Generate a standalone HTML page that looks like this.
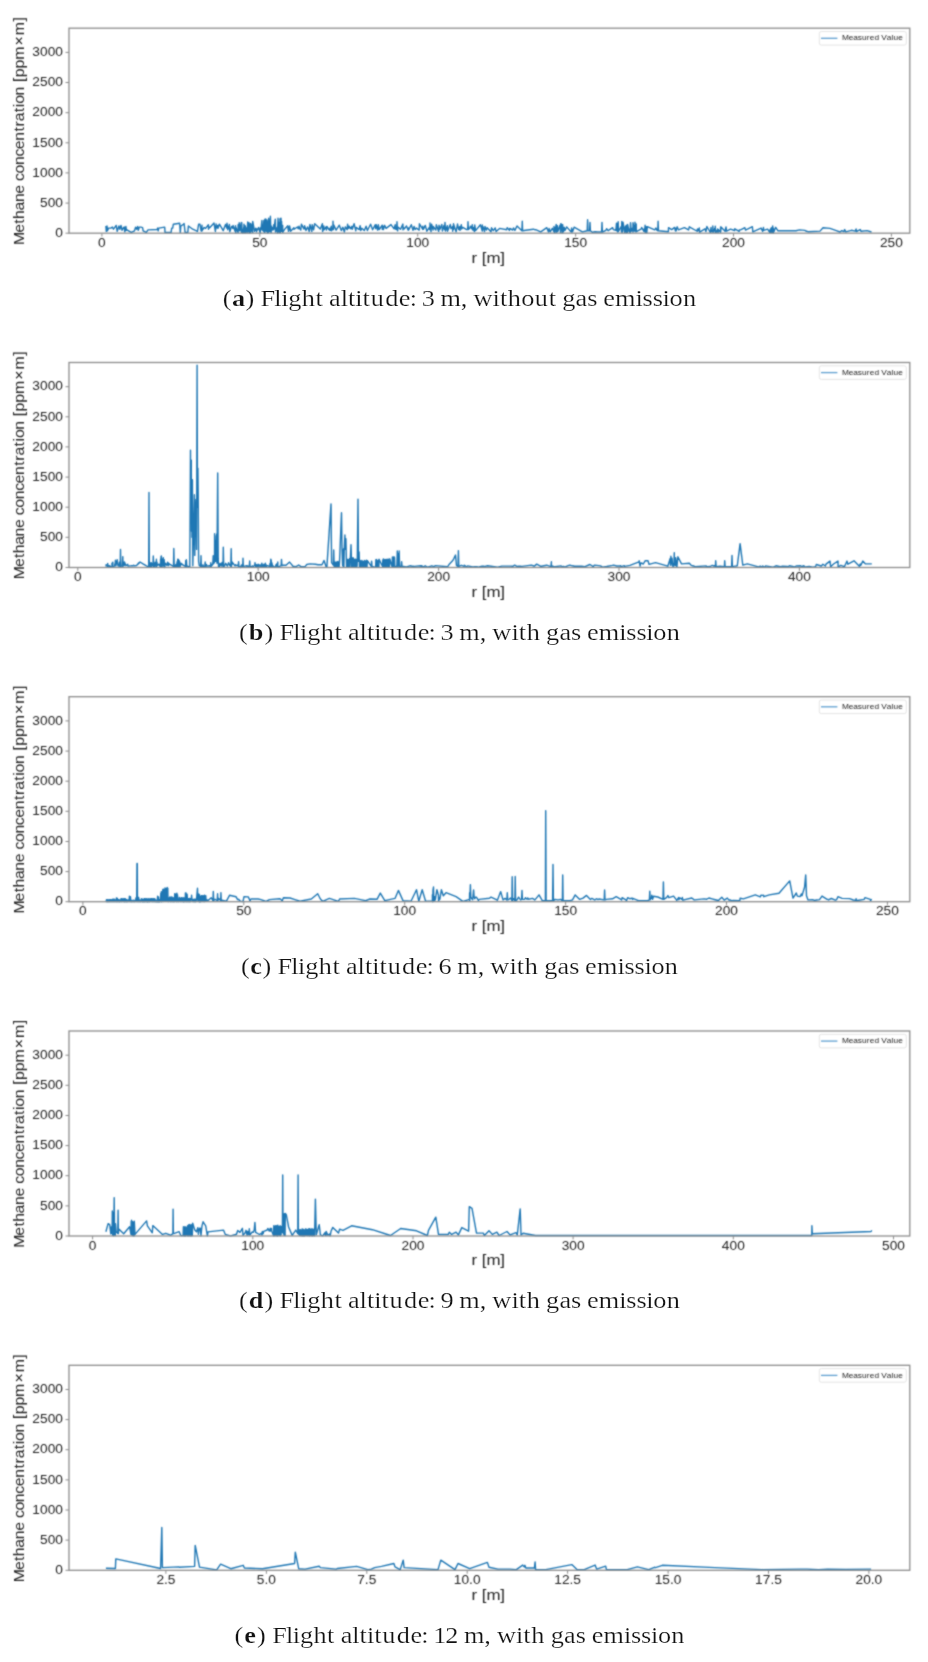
<!DOCTYPE html><html><head><meta charset="utf-8"><style>html,body{margin:0;padding:0;background:#fff;}body{width:928px;height:1662px;overflow:hidden;}svg{display:block;}</style></head><body>
<svg width="928" height="1662" viewBox="0 0 928 1662">
<rect width="928" height="1662" fill="#fff"/>
<defs><filter id="bl" x="0" y="0" width="928" height="1662" filterUnits="userSpaceOnUse" color-interpolation-filters="sRGB"><feConvolveMatrix order="3" kernelMatrix="1 2 1 2 8 2 1 2 1" divisor="20" edgeMode="none"/></filter></defs>
<g filter="url(#bl)">
<rect width="928" height="1662" fill="#fff"/>
<g><path d="M105.9,226.0 L106.3,231.4 L107.0,226.0 L107.5,230.8 L108.6,228.1 L110.8,228.1 L112.4,227.1 L113.5,229.2 L116.2,225.4 L117.2,231.4 L118.9,226.0 L119.9,229.2 L121.0,225.4 L122.1,230.3 L123.2,228.1 L124.2,227.1 L124.8,231.9 L125.9,226.5 L126.4,230.3 L126.9,229.8 L131.3,232.4 L134.5,230.8 L135.6,227.1 L136.6,229.2 L137.7,226.5 L138.3,230.3 L139.3,227.1 L140.9,227.1 L142.6,227.6 L143.1,230.8 L146.3,232.4 L148.0,229.9 L157.1,229.5 L157.7,228.1 L158.2,230.8 L158.7,228.1 L164.7,227.1 L165.0,232.4 L171.1,232.4 L171.7,228.1 L172.7,228.1 L173.3,224.3 L179.7,223.3 L180.3,232.4 L180.8,226.0 L183.5,224.3 L184.1,223.5 L185.1,232.4 L187.8,232.4 L188.4,226.0 L192.7,229.2 L197.5,231.4 L198.6,224.3 L200.0,224.3 L201.1,231.0 L201.9,226.4 L202.0,231.0 L202.0,225.2 L202.0,230.7 L204.2,227.5 L205.6,228.4 L208.4,224.7 L208.5,229.2 L208.8,226.7 L209.7,227.7 L214.0,223.1 L215.4,231.5 L215.7,225.9 L215.9,228.9 L216.1,223.9 L216.3,227.9 L217.8,225.4 L217.9,228.4 L219.4,224.1 L223.2,230.7 L225.5,224.5 L226.9,228.2 L227.0,223.2 L227.8,229.8 L229.4,224.5 L229.8,231.8 L231.6,226.4 L232.9,228.5 L233.1,225.5 L235.1,231.4 L235.5,225.7 L235.8,233.1 L236.0,227.6 L238.1,232.7 L238.1,224.7 L238.6,230.6 L239.2,222.8 L239.8,230.8 L241.2,222.7 L241.4,232.4 L241.7,222.5 L242.1,231.2 L242.1,228.9 L242.7,233.1 L242.9,229.5 L243.3,230.9 L243.7,227.5 L243.8,232.9 L244.0,224.3 L244.1,232.2 L244.2,229.0 L244.2,232.7 L244.3,225.1 L244.4,232.7 L244.7,227.3 L244.7,231.1 L244.9,225.7 L244.9,232.2 L245.1,225.6 L245.3,233.1 L245.4,226.3 L245.7,231.9 L246.2,228.0 L247.1,232.9 L247.7,222.0 L247.7,231.7 L248.3,227.8 L248.9,231.4 L249.0,222.7 L249.1,233.1 L249.6,229.4 L249.8,232.8 L250.5,223.5 L250.7,232.7 L251.0,223.6 L252.1,231.2 L252.2,225.0 L252.7,232.5 L252.7,221.4 L254.6,231.3 L255.8,228.2 L256.6,231.9 L257.0,229.0 L257.5,229.9 L258.6,227.5 L260.2,233.1 L260.4,227.9 L260.9,229.9 L261.9,220.4 L262.4,230.1 L262.4,225.1 L263.1,230.9 L263.9,220.4 L263.9,231.8 L264.5,222.7 L264.6,232.4 L264.7,227.8 L264.9,232.2 L264.9,219.3 L265.4,231.1 L265.8,218.9 L266.7,231.5 L266.8,225.8 L267.0,230.2 L267.1,219.9 L267.5,233.2 L267.5,221.6 L267.8,232.9 L267.8,227.5 L267.9,229.9 L268.0,228.3 L268.5,232.3 L268.7,218.3 L269.6,231.6 L270.0,227.5 L270.0,229.6 L270.4,216.3 L270.8,229.6 L271.1,232.6 L271.5,226.1 L271.7,230.4 L272.7,227.6 L273.1,229.8 L273.8,224.7 L273.9,229.5 L275.3,219.1 L275.5,232.1 L275.5,226.0 L275.8,231.4 L276.2,227.6 L276.7,230.7 L277.1,228.3 L277.5,233.2 L278.0,218.3 L278.8,232.1 L279.3,222.4 L279.3,231.5 L279.7,225.4 L280.0,233.0 L280.0,219.0 L280.0,229.5 L280.2,218.5 L280.3,232.8 L280.4,226.4 L280.7,230.9 L281.0,218.3 L281.4,231.2 L281.6,221.4 L281.9,230.7 L282.1,225.9 L282.4,231.2 L282.7,225.4 L282.7,232.3 L284.4,229.6 L287.8,225.8 L288.1,229.5 L288.2,227.2 L288.4,231.3 L288.6,227.2 L288.7,231.2 L289.6,225.9 L290.6,231.2 L293.9,227.8 L294.1,229.3 L297.4,227.0 L298.2,228.8 L299.0,226.2 L299.7,228.6 L300.8,230.1 L301.4,224.2 L304.0,229.1 L304.6,225.6 L306.0,230.5 L307.7,226.9 L309.2,231.6 L309.9,224.5 L311.8,231.5 L312.2,224.7 L313.6,229.9 L314.7,223.7 L320.3,229.1 L322.4,223.7 L322.6,231.5 L323.8,225.9 L324.0,229.8 L326.3,226.8 L326.4,230.1 L326.9,226.5 L329.3,230.0 L330.0,228.2 L330.3,230.3 L331.3,226.1 L331.3,230.8 L332.6,229.6 L332.9,226.3 L333.0,221.1 L333.4,229.6 L333.5,229.0 L333.8,225.0 L336.1,230.1 L339.3,225.2 L341.3,230.6 L342.8,227.3 L344.4,232.0 L345.3,226.9 L347.2,229.7 L347.6,224.1 L347.7,228.8 L348.0,225.8 L349.0,228.2 L349.2,226.1 L350.8,228.8 L351.9,226.3 L352.3,229.2 L354.1,223.6 L355.8,230.8 L356.1,227.4 L359.2,229.6 L360.1,225.7 L360.8,230.6 L361.8,228.2 L364.3,230.5 L366.1,226.2 L367.4,230.5 L370.6,224.2 L372.6,229.8 L375.2,224.8 L375.6,228.6 L376.2,224.7 L377.6,230.1 L378.3,224.7 L379.2,229.6 L382.2,225.2 L382.3,229.6 L383.3,226.3 L383.4,229.6 L384.6,225.3 L386.1,228.4 L391.0,224.6 L394.1,228.8 L395.2,224.6 L395.3,228.9 L396.6,229.6 L397.0,221.7 L397.2,225.4 L397.4,229.6 L397.7,230.7 L397.9,227.0 L400.5,229.3 L402.9,224.1 L403.0,229.9 L403.6,227.5 L404.4,228.8 L406.5,225.9 L408.2,230.2 L408.4,228.0 L408.5,230.1 L411.3,224.7 L413.0,230.4 L414.1,226.5 L415.1,229.5 L416.4,228.1 L419.2,230.1 L419.4,223.8 L422.8,229.4 L422.8,226.3 L423.3,229.4 L425.3,225.4 L426.9,231.2 L429.5,227.2 L429.6,229.6 L429.9,228.6 L430.0,223.0 L430.4,229.6 L430.4,226.9 L431.0,231.7 L431.6,224.3 L433.1,230.0 L433.2,226.5 L435.8,230.1 L436.3,224.8 L438.7,231.4 L439.0,225.2 L439.9,229.3 L441.8,224.4 L442.4,231.0 L444.0,225.4 L444.6,229.6 L445.0,222.4 L445.4,229.6 L445.5,231.1 L447.4,225.6 L447.5,231.3 L450.3,224.5 L451.0,228.7 L452.5,226.7 L452.7,231.2 L453.5,223.7 L453.6,229.3 L453.6,224.3 L456.1,231.9 L457.5,224.0 L458.7,229.6 L459.7,226.7 L460.0,230.4 L461.3,224.7 L461.7,229.0 L462.7,227.3 L466.7,229.6 L467.6,229.6 L467.8,227.4 L468.0,221.7 L468.4,229.6 L469.8,228.3 L470.4,226.1 L471.6,228.5 L472.3,224.8 L472.4,229.7 L472.7,227.0 L473.0,230.0 L473.4,227.6 L474.4,231.5 L474.7,224.9 L475.6,230.6 L480.4,224.7 L482.3,231.1 L482.3,224.9 L482.4,229.3 L483.0,226.8 L484.5,231.6 L485.0,226.4 L486.4,230.1 L487.1,227.7 L491.0,231.8 L491.5,227.8 L493.3,230.7 L495.2,227.9 L496.1,231.6 L499.6,228.4 L506.7,229.7 L507.2,227.6 L509.4,230.4 L509.7,228.5 L512.8,230.0 L513.5,228.0 L514.9,230.4 L517.0,226.0 L521.9,230.8 L522.3,221.3 L522.6,230.8 L525.8,230.3 L533.4,229.2 L535.2,229.9 L535.7,229.6 L540.7,231.8 L546.8,227.7 L548.5,232.0 L549.1,228.5 L550.2,231.8 L552.3,228.3 L553.9,231.7 L554.0,226.5 L554.1,231.9 L554.2,229.9 L554.3,232.3 L554.6,227.5 L554.9,232.7 L556.2,224.4 L556.6,232.2 L557.4,225.8 L557.8,231.5 L560.0,225.3 L560.4,231.5 L560.5,225.2 L560.5,232.6 L560.8,223.7 L561.0,232.8 L561.6,224.1 L562.7,231.1 L562.7,224.6 L562.7,233.1 L563.4,229.7 L563.7,231.2 L564.1,227.1 L565.1,230.3 L566.7,226.9 L571.2,232.1 L571.6,228.0 L572.5,231.9 L574.1,227.2 L582.4,231.9 L587.2,230.8 L587.6,219.8 L588.0,230.8 L589.6,230.8 L590.0,222.4 L590.4,230.8 L592.3,232.3 L595.1,231.7 L597.9,232.0 L601.6,232.0 L602.0,222.4 L602.4,232.0 L605.9,230.3 L606.6,228.7 L608.1,230.7 L612.7,227.7 L613.3,229.6 L615.9,230.3 L616.5,223.1 L617.1,231.1 L617.3,223.4 L617.9,232.1 L618.2,221.8 L618.4,231.3 L621.3,226.3 L621.4,231.8 L621.8,221.5 L622.0,231.6 L622.0,228.2 L622.1,232.8 L622.5,223.9 L622.6,231.5 L623.0,222.1 L624.7,232.7 L625.4,226.2 L625.8,231.0 L626.3,229.2 L626.3,232.9 L626.4,225.1 L626.6,232.4 L627.4,228.7 L627.4,232.4 L627.6,224.4 L629.1,231.6 L629.1,229.0 L630.1,233.0 L630.5,222.6 L631.2,231.3 L632.3,228.2 L632.6,230.6 L632.6,229.5 L633.0,232.1 L633.0,222.6 L634.4,231.1 L634.7,227.3 L634.8,230.6 L634.9,224.7 L635.0,230.6 L635.0,222.2 L635.9,231.9 L636.2,224.0 L636.3,231.6 L641.0,229.2 L641.7,227.5 L643.9,231.3 L644.1,228.9 L644.7,230.4 L645.1,225.2 L645.2,232.6 L646.2,226.6 L646.3,231.0 L646.4,229.3 L646.8,232.8 L647.3,226.6 L654.7,229.9 L656.0,228.0 L656.7,229.9 L657.8,230.8 L658.1,221.3 L658.5,230.8 L668.4,231.7 L668.5,227.7 L671.7,229.6 L674.7,227.4 L675.3,230.7 L675.8,228.5 L676.0,231.1 L677.2,226.8 L678.5,229.9 L684.4,227.6 L688.6,229.9 L689.3,226.8 L696.7,231.0 L697.5,229.0 L697.7,231.3 L699.3,228.0 L699.6,232.2 L705.0,228.8 L705.9,231.6 L706.9,226.5 L710.3,232.5 L711.0,227.4 L711.4,231.7 L712.5,230.6 L712.8,232.1 L712.8,226.0 L713.2,232.2 L714.8,228.3 L715.3,232.6 L715.3,226.2 L715.4,231.4 L715.7,230.5 L716.5,232.2 L717.6,228.9 L717.9,232.0 L717.9,230.4 L718.1,232.7 L718.5,229.6 L720.5,232.3 L720.6,227.0 L720.7,231.6 L721.0,227.0 L725.1,231.3 L726.0,226.9 L726.5,231.1 L730.5,229.2 L734.6,230.5 L734.8,228.8 L739.2,231.3 L739.3,229.9 L740.6,229.9 L744.9,227.7 L745.5,230.1 L752.4,226.7 L752.8,231.9 L761.1,228.1 L762.7,231.4 L763.5,227.4 L763.6,230.3 L767.6,229.1 L769.9,232.7 L770.0,229.7 L770.4,232.5 L770.9,228.3 L771.0,232.5 L771.9,227.5 L771.9,232.8 L772.7,226.0 L772.9,231.8 L773.2,227.9 L773.3,233.1 L773.9,229.1 L773.9,231.8 L775.7,227.3 L778.0,230.8 L796.0,230.8 L799.5,229.9 L804.9,230.4 L805.8,231.0 L808.0,231.7 L820.0,231.1 L823.0,227.8 L830.0,228.4 L837.0,230.8 L840.0,232.0 L841.8,230.6 L843.8,231.6 L844.7,229.6 L845.7,231.9 L851.4,230.3 L855.3,231.1 L856.1,229.0 L856.3,231.5 L860.3,229.6 L860.9,231.3 L867.1,230.6 L871.5,232.0" fill="none" stroke="#1f77b4" stroke-width="1.4" stroke-linejoin="round"/><rect x="69.0" y="28.2" width="840.8" height="205.0" fill="none" stroke="#8c8c8c" stroke-width="1.3"/><line x1="65.5" y1="233.2" x2="69.0" y2="233.2" stroke="#8c8c8c" stroke-width="1"/><text transform="scale(1.0725,1)" y="236.93" font-size="12.80" class="tk"><tspan x="51.53">0</tspan></text><line x1="65.5" y1="203.1" x2="69.0" y2="203.1" stroke="#8c8c8c" stroke-width="1"/><text transform="scale(1.0725,1)" y="206.80" font-size="12.80" class="tk"><tspan x="37.29 44.41 51.53">500</tspan></text><line x1="65.5" y1="172.9" x2="69.0" y2="172.9" stroke="#8c8c8c" stroke-width="1"/><text transform="scale(1.0725,1)" y="176.66" font-size="12.80" class="tk"><tspan x="30.17 37.29 44.41 51.53">1000</tspan></text><line x1="65.5" y1="142.8" x2="69.0" y2="142.8" stroke="#8c8c8c" stroke-width="1"/><text transform="scale(1.0725,1)" y="146.53" font-size="12.80" class="tk"><tspan x="30.17 37.29 44.41 51.53">1500</tspan></text><line x1="65.5" y1="112.7" x2="69.0" y2="112.7" stroke="#8c8c8c" stroke-width="1"/><text transform="scale(1.0725,1)" y="116.40" font-size="12.80" class="tk"><tspan x="30.17 37.29 44.41 51.53">2000</tspan></text><line x1="65.5" y1="82.5" x2="69.0" y2="82.5" stroke="#8c8c8c" stroke-width="1"/><text transform="scale(1.0725,1)" y="86.26" font-size="12.80" class="tk"><tspan x="30.17 37.29 44.41 51.53">2500</tspan></text><line x1="65.5" y1="52.4" x2="69.0" y2="52.4" stroke="#8c8c8c" stroke-width="1"/><text transform="scale(1.0725,1)" y="56.13" font-size="12.80" class="tk"><tspan x="30.17 37.29 44.41 51.53">3000</tspan></text><line x1="101.9" y1="233.2" x2="101.9" y2="236.7" stroke="#8c8c8c" stroke-width="1"/><text transform="scale(1.0725,1)" y="246.83" font-size="12.80" class="tk"><tspan x="91.45">0</tspan></text><line x1="259.8" y1="233.2" x2="259.8" y2="236.7" stroke="#8c8c8c" stroke-width="1"/><text transform="scale(1.0725,1)" y="246.83" font-size="12.80" class="tk"><tspan x="235.12 242.24">50</tspan></text><line x1="417.7" y1="233.2" x2="417.7" y2="236.7" stroke="#8c8c8c" stroke-width="1"/><text transform="scale(1.0725,1)" y="246.83" font-size="12.80" class="tk"><tspan x="378.79 385.91 393.03">100</tspan></text><line x1="575.6" y1="233.2" x2="575.6" y2="236.7" stroke="#8c8c8c" stroke-width="1"/><text transform="scale(1.0725,1)" y="246.83" font-size="12.80" class="tk"><tspan x="526.02 533.14 540.26">150</tspan></text><line x1="733.5" y1="233.2" x2="733.5" y2="236.7" stroke="#8c8c8c" stroke-width="1"/><text transform="scale(1.0725,1)" y="246.83" font-size="12.80" class="tk"><tspan x="673.25 680.37 687.48">200</tspan></text><line x1="891.4" y1="233.2" x2="891.4" y2="236.7" stroke="#8c8c8c" stroke-width="1"/><text transform="scale(1.0725,1)" y="246.83" font-size="12.80" class="tk"><tspan x="820.47 827.59 834.71">250</tspan></text><text transform="scale(1.1980,1)" y="262.65" font-size="14.10" class="tk"><tspan x="393.63 398.16 402.18 406.01 417.66">r [m]</tspan></text><text transform="translate(0,243.00) rotate(-90) scale(1.1236,1)" y="24.00" font-size="14.10" class="tk"><tspan x="-1.84 9.04 17.09 21.33 28.86 36.39 43.94 51.54 55.22 61.84 69.37 76.92 83.56 91.11 99.27 103.74 108.35 116.39 120.83 123.85 131.38 139.09 143.37 147.60 155.27 163.04 175.75 184.94 197.10">Methane concentration [ppm×m]</tspan></text><rect x="819.3" y="31.5" width="87" height="13.6" rx="2" fill="#fff" stroke="#e4e4e4" stroke-width="1"/><line x1="821" y1="38.3" x2="837.4" y2="38.3" stroke="#5e9fd0" stroke-width="1.3"/><text transform="scale(1.0576,1)" y="40.50" font-size="7.86" class="lg"><tspan x="796.17 802.52 806.88 811.13 815.02 819.61 822.38 826.83 831.31 833.34 838.39 842.86 844.79 849.23">Measured Value</tspan></text></g>
<g><path d="M106.0,566.5 L106.1,564.6 L107.5,566.6 L107.7,563.4 L108.0,566.7 L108.0,565.2 L109.6,566.5 L109.7,565.7 L110.8,566.8 L112.0,566.9 L112.0,563.1 L112.5,565.7 L112.8,562.3 L112.9,566.4 L114.6,566.1 L114.9,563.9 L115.1,565.6 L115.4,560.3 L115.9,565.9 L117.2,559.7 L118.0,565.9 L119.0,564.7 L119.0,566.2 L119.5,562.1 L120.2,566.3 L120.5,549.5 L120.8,566.3 L122.3,565.8 L122.8,556.6 L122.8,565.4 L122.9,560.1 L122.9,566.8 L123.0,561.4 L124.2,565.5 L124.4,562.7 L124.4,564.9 L124.5,561.9 L125.9,565.7 L127.7,564.2 L127.9,566.0 L130.7,565.9 L131.5,565.7 L133.1,565.8 L133.7,565.2 L134.2,565.8 L136.5,565.6 L137.8,564.2 L138.4,563.0 L138.5,563.8 L140.0,562.0 L143.0,563.9 L146.0,565.7 L148.4,566.9 L148.7,566.9 L149.0,492.5 L149.3,566.9 L149.8,566.8 L150.0,562.6 L150.1,567.4 L150.7,564.1 L151.4,567.2 L151.4,562.8 L153.0,566.3 L153.3,556.0 L153.7,566.3 L154.5,566.5 L154.5,564.2 L154.6,565.0 L154.8,563.4 L154.9,567.4 L155.1,562.1 L156.3,565.9 L156.4,559.3 L156.6,567.2 L157.0,562.1 L157.2,565.6 L158.5,564.3 L159.5,565.7 L159.6,564.3 L160.4,567.2 L160.6,558.9 L160.7,566.0 L161.1,556.1 L161.3,564.8 L161.4,556.0 L161.4,566.8 L161.5,560.4 L162.0,566.7 L162.3,559.3 L162.7,565.7 L163.3,557.6 L163.5,565.4 L163.7,561.9 L163.9,566.3 L164.2,559.8 L164.5,567.5 L164.7,563.7 L164.9,566.3 L165.3,563.1 L166.9,565.4 L167.6,562.1 L168.4,565.6 L168.7,563.1 L168.8,565.1 L168.9,563.5 L169.9,564.4 L173.5,566.3 L173.8,548.4 L174.2,566.3 L175.3,566.2 L175.9,564.5 L176.4,566.8 L176.8,564.9 L177.1,561.6 L177.4,567.4 L177.7,559.3 L177.8,567.2 L178.2,562.1 L178.2,565.3 L178.5,559.4 L179.1,567.4 L179.4,561.0 L180.4,566.2 L181.0,563.3 L182.1,564.6 L182.4,564.2 L182.9,565.0 L185.5,566.3 L185.8,560.4 L186.1,566.3 L186.2,566.3 L186.4,559.7 L186.8,566.3 L188.0,566.3 L189.8,566.9 L190.5,450.1 L190.7,522.1 L191.3,460.3 L191.5,531.3 L191.7,486.9 L192.0,537.3 L192.4,479.8 L192.8,565.7 L193.3,543.4 L194.4,494.7 L194.8,555.4 L195.3,513.2 L196.0,499.4 L196.6,549.4 L197.1,365.1 L197.5,507.2 L197.9,468.2 L198.2,493.9 L198.6,561.4 L199.3,565.7 L200.7,566.3 L201.0,555.7 L201.3,566.3 L202.5,566.4 L203.0,564.8 L203.4,566.4 L204.8,566.3 L205.2,562.0 L205.5,566.3 L206.3,566.2 L206.5,564.5 L206.5,566.1 L209.4,565.7 L210.5,566.3 L210.8,562.8 L211.2,566.3 L212.2,565.1 L212.8,563.9 L213.2,555.7 L213.5,563.9 L214.5,562.2 L214.6,533.8 L214.9,550.3 L215.2,560.7 L215.3,549.7 L215.4,561.2 L215.5,540.7 L216.0,557.4 L216.2,542.7 L216.3,535.8 L216.5,558.2 L216.5,553.2 L216.6,561.7 L216.7,533.9 L217.0,563.3 L217.1,546.3 L217.7,472.9 L218.2,558.4 L218.5,566.5 L218.6,562.8 L218.8,566.8 L219.2,563.5 L219.4,567.3 L220.7,563.4 L221.6,566.0 L222.0,562.5 L223.0,566.3 L223.3,547.2 L223.7,566.3 L224.6,566.0 L225.7,563.3 L227.4,566.1 L228.6,562.7 L229.8,565.4 L230.8,566.3 L231.2,548.7 L231.5,566.3 L231.6,564.0 L231.8,561.5 L232.2,564.3 L232.4,562.3 L235.0,565.9 L235.4,564.7 L236.6,565.6 L237.7,565.0 L238.2,566.3 L238.6,561.6 L238.9,566.3 L240.6,567.5 L241.0,565.8 L241.0,567.0 L241.3,565.7 L241.5,565.0 L241.6,565.1 L241.7,566.0 L242.7,566.3 L243.0,558.3 L243.3,566.3 L243.6,566.4 L246.8,565.7 L247.1,566.8 L247.5,565.8 L248.0,566.5 L248.7,566.2 L249.3,566.3 L249.7,561.0 L250.0,566.3 L250.9,566.8 L252.6,565.9 L253.3,566.6 L253.6,566.2 L254.7,565.7 L255.0,562.6 L255.3,565.7 L256.0,567.3 L256.3,564.7 L256.9,566.9 L257.0,565.0 L257.6,567.5 L258.1,564.1 L258.5,566.3 L259.2,564.8 L260.0,566.8 L260.9,564.7 L261.6,566.9 L261.8,563.1 L261.8,567.1 L262.0,563.8 L262.8,566.9 L263.9,564.2 L264.1,566.4 L264.1,565.8 L265.0,566.5 L265.0,565.0 L265.1,566.7 L265.4,563.3 L265.4,566.7 L266.0,564.7 L266.4,566.5 L267.6,565.7 L269.8,566.5 L270.0,563.5 L270.3,566.9 L270.8,559.1 L271.1,567.2 L271.1,559.9 L271.6,566.7 L271.8,562.7 L272.7,566.8 L273.3,566.0 L273.6,566.7 L275.3,567.1 L276.0,564.7 L276.3,566.4 L276.9,563.8 L277.7,566.9 L277.8,561.9 L277.8,567.1 L281.1,565.7 L281.5,559.4 L281.9,565.7 L283.0,565.3 L286.0,565.3 L289.6,562.1 L293.0,566.3 L296.0,566.6 L298.7,565.0 L301.0,566.6 L305.0,566.6 L306.8,564.5 L310.0,563.9 L315.4,564.2 L318.0,564.8 L322.0,564.8 L324.0,560.5 L326.2,566.9 L326.9,566.9 L331.0,503.9 L331.6,562.6 L333.3,565.1 L333.7,550.0 L334.1,565.1 L334.3,567.3 L334.6,561.9 L334.8,567.0 L335.3,562.2 L335.5,567.2 L336.0,562.4 L336.4,566.8 L336.6,562.2 L337.0,567.1 L337.4,561.6 L337.7,567.3 L338.0,561.5 L338.4,567.4 L338.8,562.6 L339.1,567.2 L339.5,562.2 L341.5,512.7 L342.0,547.6 L342.6,565.5 L342.9,550.0 L343.2,566.8 L343.5,549.0 L343.9,567.1 L344.2,550.3 L344.9,535.0 L345.4,549.4 L345.9,538.8 L346.6,567.1 L346.7,558.8 L347.1,567.4 L347.4,560.0 L347.8,566.5 L348.2,559.5 L348.5,566.6 L348.9,560.0 L349.2,566.9 L349.6,558.7 L350.0,567.1 L350.3,558.8 L351.0,544.7 L351.7,567.3 L352.0,557.8 L352.5,567.3 L352.7,557.9 L353.0,566.7 L353.4,558.0 L353.7,567.4 L354.1,559.2 L354.4,566.5 L354.7,559.7 L355.1,567.3 L355.5,559.1 L355.9,567.3 L356.2,559.5 L356.4,566.7 L356.7,559.6 L357.1,566.3 L357.3,558.5 L358.0,499.1 L358.5,561.4 L359.1,552.0 L359.5,566.7 L360.1,560.4 L360.3,566.8 L360.7,561.0 L361.0,566.7 L361.2,561.4 L361.7,567.4 L361.9,560.5 L362.3,566.9 L362.8,561.4 L363.1,567.1 L363.3,561.3 L363.7,567.1 L364.1,561.1 L364.2,567.1 L364.7,560.5 L364.9,566.8 L365.2,560.9 L365.6,567.1 L365.9,561.3 L366.2,566.8 L366.6,560.3 L367.0,567.3 L367.4,560.7 L371.2,566.3 L371.6,561.1 L372.0,566.3 L375.6,567.4 L375.9,559.6 L376.1,566.7 L376.6,559.5 L376.8,566.9 L377.1,560.8 L377.5,567.3 L377.9,560.7 L378.2,566.8 L378.6,560.0 L378.9,567.3 L379.1,559.3 L382.5,566.5 L382.8,559.9 L383.0,566.6 L383.3,559.0 L383.6,566.6 L384.1,559.4 L384.4,567.0 L384.6,559.6 L385.1,567.0 L385.3,559.8 L385.6,567.3 L385.9,559.4 L386.3,567.3 L386.6,559.4 L387.0,566.8 L387.1,559.7 L387.6,567.3 L387.8,559.1 L388.3,566.5 L388.5,559.8 L388.8,566.8 L389.2,559.0 L389.5,566.5 L389.8,559.0 L392.1,567.1 L392.4,556.9 L392.9,567.0 L393.1,557.6 L393.4,566.9 L393.9,556.7 L394.1,567.4 L394.5,557.3 L394.8,567.3 L396.9,565.9 L397.3,551.0 L397.3,555.5 L397.6,567.0 L397.8,553.1 L398.3,565.9 L398.7,555.3 L398.9,566.2 L399.2,551.0 L399.2,553.4 L399.6,566.4 L401.2,566.3 L401.6,561.6 L402.0,566.3 L406.4,567.0 L409.9,565.8 L413.3,566.5 L413.4,566.3 L414.3,566.4 L420.8,565.7 L421.4,567.1 L421.4,565.7 L423.4,566.8 L425.2,565.8 L427.4,567.1 L431.8,565.8 L433.8,566.7 L435.5,565.6 L447.7,566.7 L449.5,563.9 L453.0,560.2 L455.5,555.1 L456.5,565.7 L458.0,566.3 L458.4,550.6 L458.8,566.3 L461.4,565.3 L464.2,566.3 L464.3,565.3 L466.8,566.9 L467.6,565.9 L473.0,567.0 L474.7,566.7 L477.4,566.8 L478.2,567.2 L482.0,566.3 L483.8,566.1 L484.1,566.6 L487.6,565.8 L497.6,567.1 L501.9,566.1 L510.1,566.1 L512.8,566.3 L514.7,565.2 L517.8,566.9 L517.9,566.3 L520.4,566.2 L521.8,566.4 L531.3,565.1 L534.0,566.0 L534.4,566.1 L536.7,564.1 L540.4,566.2 L541.4,566.2 L546.6,565.2 L551.0,566.6 L551.4,561.7 L551.4,565.5 L551.8,566.6 L551.9,565.8 L554.9,566.8 L560.8,565.9 L563.0,566.9 L563.6,566.4 L564.7,567.1 L568.1,565.7 L569.9,565.1 L572.3,565.8 L573.9,566.0 L574.3,566.6 L574.4,566.2 L579.8,566.2 L581.6,566.3 L584.9,566.6 L589.9,564.5 L593.3,566.7 L594.0,565.6 L594.4,565.2 L596.8,565.4 L600.6,565.9 L602.4,567.1 L606.6,566.5 L612.3,565.4 L613.6,565.1 L613.7,565.1 L616.8,566.0 L620.3,566.0 L620.5,565.7 L621.1,566.6 L624.3,565.7 L624.4,566.4 L629.9,565.4 L638.4,562.1 L639.2,562.7 L639.2,560.8 L640.1,566.1 L640.7,563.1 L641.1,562.9 L643.3,564.0 L645.1,560.8 L648.0,560.7 L649.0,564.4 L655.5,562.6 L667.8,566.2 L670.2,558.4 L670.4,565.1 L670.9,556.3 L670.9,565.5 L672.0,558.2 L672.8,566.3 L673.4,563.5 L673.8,566.1 L673.9,565.1 L674.0,562.9 L674.3,552.6 L674.4,564.6 L674.6,565.1 L675.2,560.8 L675.6,565.6 L675.7,557.7 L676.9,566.9 L677.9,556.8 L681.5,563.9 L689.4,563.3 L690.9,565.1 L691.5,565.3 L692.6,565.8 L694.0,566.0 L694.7,566.7 L706.3,565.9 L706.5,566.8 L710.1,566.5 L712.2,565.4 L713.9,566.0 L714.7,565.6 L715.4,566.6 L715.7,560.8 L716.1,566.6 L720.0,566.2 L724.4,566.6 L724.7,560.8 L725.1,566.6 L725.7,566.6 L731.6,566.6 L732.0,555.5 L732.4,566.6 L734.9,566.1 L736.0,566.0 L737.3,565.7 L740.1,543.7 L742.8,565.1 L747.3,563.9 L758.6,566.9 L760.3,566.1 L761.5,567.2 L761.6,567.0 L762.7,566.0 L764.4,566.9 L765.2,566.9 L765.5,566.6 L765.5,565.9 L773.2,567.2 L776.0,565.8 L780.3,566.7 L782.7,566.3 L787.5,566.5 L787.6,567.0 L789.4,565.7 L794.8,566.9 L796.2,566.0 L800.6,565.8 L801.9,566.5 L804.0,565.7 L804.1,567.1 L805.2,566.9 L809.2,566.4 L812.8,567.1 L815.6,566.6 L816.3,564.5 L821.3,566.0 L822.9,564.2 L825.4,566.0 L826.0,564.1 L830.0,561.1 L830.6,566.7 L833.5,564.0 L838.0,561.1 L838.1,566.8 L840.8,565.3 L844.4,566.7 L847.0,561.1 L847.9,564.2 L854.0,560.8 L859.3,566.2 L860.2,564.0 L860.7,565.5 L862.8,561.1 L865.5,563.9 L871.8,563.9" fill="none" stroke="#1f77b4" stroke-width="1.4" stroke-linejoin="round"/><rect x="69.0" y="362.5" width="840.8" height="205.0" fill="none" stroke="#8c8c8c" stroke-width="1.3"/><line x1="65.5" y1="567.5" x2="69.0" y2="567.5" stroke="#8c8c8c" stroke-width="1"/><text transform="scale(1.0725,1)" y="571.20" font-size="12.80" class="tk"><tspan x="51.53">0</tspan></text><line x1="65.5" y1="537.3" x2="69.0" y2="537.3" stroke="#8c8c8c" stroke-width="1"/><text transform="scale(1.0725,1)" y="541.07" font-size="12.80" class="tk"><tspan x="37.29 44.41 51.53">500</tspan></text><line x1="65.5" y1="507.2" x2="69.0" y2="507.2" stroke="#8c8c8c" stroke-width="1"/><text transform="scale(1.0725,1)" y="510.93" font-size="12.80" class="tk"><tspan x="30.17 37.29 44.41 51.53">1000</tspan></text><line x1="65.5" y1="477.1" x2="69.0" y2="477.1" stroke="#8c8c8c" stroke-width="1"/><text transform="scale(1.0725,1)" y="480.80" font-size="12.80" class="tk"><tspan x="30.17 37.29 44.41 51.53">1500</tspan></text><line x1="65.5" y1="446.9" x2="69.0" y2="446.9" stroke="#8c8c8c" stroke-width="1"/><text transform="scale(1.0725,1)" y="450.67" font-size="12.80" class="tk"><tspan x="30.17 37.29 44.41 51.53">2000</tspan></text><line x1="65.5" y1="416.8" x2="69.0" y2="416.8" stroke="#8c8c8c" stroke-width="1"/><text transform="scale(1.0725,1)" y="420.53" font-size="12.80" class="tk"><tspan x="30.17 37.29 44.41 51.53">2500</tspan></text><line x1="65.5" y1="386.7" x2="69.0" y2="386.7" stroke="#8c8c8c" stroke-width="1"/><text transform="scale(1.0725,1)" y="390.40" font-size="12.80" class="tk"><tspan x="30.17 37.29 44.41 51.53">3000</tspan></text><line x1="77.8" y1="567.47" x2="77.8" y2="570.97" stroke="#8c8c8c" stroke-width="1"/><text transform="scale(1.0725,1)" y="581.10" font-size="12.80" class="tk"><tspan x="68.98">0</tspan></text><line x1="258.2" y1="567.47" x2="258.2" y2="570.97" stroke="#8c8c8c" stroke-width="1"/><text transform="scale(1.0725,1)" y="581.10" font-size="12.80" class="tk"><tspan x="230.07 237.19 244.31">100</tspan></text><line x1="438.6" y1="567.47" x2="438.6" y2="570.97" stroke="#8c8c8c" stroke-width="1"/><text transform="scale(1.0725,1)" y="581.10" font-size="12.80" class="tk"><tspan x="398.28 405.40 412.52">200</tspan></text><line x1="619.0" y1="567.47" x2="619.0" y2="570.97" stroke="#8c8c8c" stroke-width="1"/><text transform="scale(1.0725,1)" y="581.10" font-size="12.80" class="tk"><tspan x="566.49 573.60 580.72">300</tspan></text><line x1="799.4" y1="567.47" x2="799.4" y2="570.97" stroke="#8c8c8c" stroke-width="1"/><text transform="scale(1.0725,1)" y="581.10" font-size="12.80" class="tk"><tspan x="734.69 741.81 748.93">400</tspan></text><text transform="scale(1.1980,1)" y="596.92" font-size="14.10" class="tk"><tspan x="393.63 398.16 402.18 406.01 417.66">r [m]</tspan></text><text transform="translate(0,577.27) rotate(-90) scale(1.1236,1)" y="24.00" font-size="14.10" class="tk"><tspan x="-1.84 9.04 17.09 21.33 28.86 36.39 43.94 51.54 55.22 61.84 69.37 76.92 83.56 91.11 99.27 103.74 108.35 116.39 120.83 123.85 131.38 139.09 143.37 147.60 155.27 163.04 175.75 184.94 197.10">Methane concentration [ppm×m]</tspan></text><rect x="819.3" y="365.8" width="87" height="13.6" rx="2" fill="#fff" stroke="#e4e4e4" stroke-width="1"/><line x1="821" y1="372.6" x2="837.4" y2="372.6" stroke="#5e9fd0" stroke-width="1.3"/><text transform="scale(1.0576,1)" y="374.77" font-size="7.86" class="lg"><tspan x="796.17 802.52 806.88 811.13 815.02 819.61 822.38 826.83 831.31 833.34 838.39 842.86 844.79 849.23">Measured Value</tspan></text></g>
<g><path d="M105.9,901.1 L106.1,901.6 L106.5,899.7 L106.8,901.6 L107.2,900.0 L107.5,901.5 L107.7,899.7 L108.0,901.7 L108.5,900.0 L108.7,901.5 L109.0,899.8 L109.6,901.6 L109.8,899.6 L110.2,901.6 L110.4,899.6 L110.8,901.6 L111.0,899.7 L111.4,901.6 L111.8,899.6 L112.2,901.6 L112.3,899.4 L112.6,901.6 L113.0,899.3 L113.5,901.5 L113.7,899.1 L114.0,901.5 L114.3,899.1 L114.8,901.6 L115.2,899.9 L115.5,901.5 L115.7,900.1 L116.2,901.4 L116.4,898.0 L116.8,901.7 L117.1,898.1 L117.3,901.6 L117.5,898.6 L117.9,901.5 L118.4,899.6 L118.7,901.6 L118.9,899.6 L119.3,901.7 L119.5,900.0 L120.1,901.6 L120.3,900.0 L120.6,901.4 L121.0,898.8 L121.4,901.6 L121.6,898.7 L121.9,901.6 L122.5,898.9 L122.6,901.4 L123.2,898.8 L123.5,901.5 L123.7,899.1 L124.0,901.6 L124.4,898.8 L124.8,901.7 L125.1,898.7 L125.4,901.5 L125.8,899.1 L126.1,901.6 L126.5,899.6 L126.9,901.7 L127.2,899.9 L127.7,901.6 L128.1,899.9 L128.3,901.6 L128.7,899.9 L129.1,901.3 L129.4,896.1 L129.7,901.5 L130.0,896.8 L130.3,901.2 L130.5,896.7 L130.8,901.6 L131.3,900.4 L131.8,901.7 L132.0,900.5 L132.5,901.6 L132.9,900.5 L133.5,901.6 L133.7,900.3 L134.3,901.7 L134.5,900.5 L134.9,901.6 L135.4,900.3 L135.8,901.3 L135.9,898.0 L136.2,901.6 L136.4,897.9 L136.7,899.9 L137.0,863.5 L137.3,863.5 L137.5,899.9 L137.9,901.7 L138.2,897.5 L138.5,901.3 L138.6,897.4 L139.2,901.6 L139.7,900.1 L140.1,901.6 L140.3,900.2 L140.9,901.7 L141.1,901.6 L141.4,898.8 L141.9,901.4 L142.1,899.1 L142.6,901.7 L142.7,899.1 L143.3,901.7 L143.6,899.1 L143.9,901.4 L144.3,898.6 L144.6,901.7 L144.9,898.8 L145.0,901.6 L145.6,898.9 L145.7,901.6 L146.1,898.7 L146.5,901.5 L146.8,898.9 L147.1,901.7 L147.6,898.9 L147.9,901.7 L148.1,898.8 L148.4,901.5 L148.9,898.9 L149.2,901.7 L149.6,899.0 L149.8,901.6 L150.1,898.7 L150.5,901.4 L150.9,898.9 L151.1,901.4 L151.6,898.7 L151.9,901.6 L152.2,898.9 L152.6,901.5 L152.7,898.7 L153.2,901.6 L153.6,898.7 L153.7,901.6 L154.1,899.0 L154.4,901.5 L154.8,898.7 L155.1,901.5 L155.5,900.0 L155.9,901.7 L156.3,900.1 L156.7,901.7 L156.9,900.0 L157.3,901.7 L157.6,896.3 L157.8,901.7 L158.1,896.8 L158.3,901.2 L158.6,897.0 L158.8,901.7 L159.2,899.4 L159.8,901.7 L160.0,899.4 L160.5,900.9 L160.8,893.3 L161.1,900.8 L161.3,891.6 L161.6,901.7 L161.7,892.9 L162.1,901.0 L162.4,891.8 L162.6,901.2 L162.8,889.4 L163.1,901.6 L163.4,889.2 L163.7,900.1 L163.9,889.4 L164.1,900.5 L164.4,890.1 L164.7,901.0 L165.0,888.0 L165.2,901.4 L165.5,889.3 L165.8,901.4 L166.1,888.4 L166.4,901.2 L166.5,889.4 L166.8,900.5 L167.2,887.4 L167.6,901.2 L167.8,888.1 L168.0,901.6 L168.4,898.8 L168.6,901.5 L168.8,898.6 L169.1,901.2 L169.4,897.5 L169.7,901.3 L170.1,897.0 L170.3,901.5 L170.8,897.7 L171.0,901.6 L171.3,897.2 L171.6,901.3 L172.0,897.0 L172.3,901.2 L172.5,897.6 L172.8,901.6 L173.2,897.6 L173.4,901.6 L173.8,898.8 L174.1,901.6 L174.4,899.1 L174.6,901.5 L174.7,893.8 L175.0,900.8 L175.4,894.2 L175.6,901.2 L175.8,894.6 L176.2,901.5 L176.4,893.7 L176.6,901.6 L176.9,893.3 L177.2,900.8 L177.5,894.7 L177.9,901.5 L178.1,899.2 L178.6,901.5 L178.9,901.6 L179.3,897.5 L179.5,901.4 L179.9,898.2 L180.3,901.3 L180.6,898.1 L180.9,901.6 L181.1,897.6 L181.5,901.4 L181.8,897.8 L182.2,901.4 L182.6,897.9 L182.9,901.6 L183.1,898.1 L183.5,901.7 L183.9,897.6 L184.3,901.6 L184.6,899.7 L185.0,901.6 L185.3,901.1 L185.4,893.0 L185.8,901.4 L186.0,892.9 L186.4,901.6 L186.6,893.9 L186.9,901.6 L187.1,894.2 L187.6,901.5 L188.0,898.7 L188.2,901.6 L188.6,898.7 L189.1,901.5 L189.6,898.4 L190.0,901.7 L190.4,898.7 L191.2,899.9 L191.6,895.3 L191.9,899.9 L192.8,901.5 L192.9,899.4 L193.6,901.5 L194.0,899.3 L194.4,901.5 L194.7,899.2 L195.1,901.7 L195.5,899.2 L195.9,901.5 L196.5,899.3 L197.5,888.2 L197.9,901.2 L198.1,893.7 L198.3,900.9 L198.5,895.1 L198.7,901.0 L199.0,894.3 L199.2,901.7 L199.4,894.7 L199.6,901.7 L199.9,896.4 L200.3,901.7 L200.7,896.2 L200.9,901.6 L201.4,895.8 L201.7,901.2 L201.8,895.7 L202.4,901.4 L202.6,895.6 L203.0,901.5 L203.3,895.8 L203.6,901.1 L203.8,895.9 L204.3,901.6 L204.6,895.2 L205.0,901.2 L205.2,896.0 L205.6,901.4 L205.8,895.7 L206.0,900.3 L207.0,900.0 L207.0,900.5 L208.7,900.0 L211.2,897.8 L213.0,900.5 L213.3,891.5 L213.7,900.5 L215.0,899.3 L217.2,900.5 L217.6,893.7 L217.9,900.5 L218.7,898.5 L220.6,900.5 L220.9,892.6 L221.2,900.5 L221.8,900.1 L226.3,901.3 L229.5,895.3 L236.0,896.7 L237.6,899.6 L238.6,899.3 L240.3,901.3 L243.0,901.6 L244.0,896.7 L248.3,896.9 L250.0,900.7 L251.0,899.0 L258.0,899.0 L261.0,899.6 L266.1,901.3 L269.4,899.6 L280.0,898.8 L282.3,900.7 L283.4,897.8 L290.0,898.0 L295.0,899.6 L300.0,901.1 L311.3,899.0 L317.7,893.8 L320.4,899.0 L322.6,901.3 L329.4,898.4 L338.5,901.3 L339.6,899.0 L354.3,898.4 L365.6,900.6 L370.0,899.0 L377.0,899.3 L380.3,893.1 L384.8,900.6 L395.0,898.4 L398.4,890.4 L403.0,900.6 L411.0,901.3 L416.5,889.7 L418.8,901.3 L422.2,889.7 L425.6,901.3 L432.0,901.3 L432.4,900.5 L432.4,894.8 L432.8,901.7 L433.0,890.0 L433.5,887.0 L433.8,901.1 L434.7,897.3 L434.7,900.3 L434.7,896.7 L435.3,899.9 L436.9,889.7 L438.5,895.2 L438.5,901.4 L439.2,897.7 L439.8,899.5 L441.4,889.7 L443.3,895.8 L446.0,892.7 L456.1,896.7 L462.9,901.3 L469.5,899.3 L469.6,892.8 L469.8,900.7 L470.4,884.8 L470.8,897.3 L472.7,899.7 L473.6,889.9 L474.1,897.0 L474.8,898.8 L475.0,897.6 L475.4,897.2 L476.4,897.1 L478.4,900.4 L479.2,899.4 L489.4,898.3 L491.0,897.1 L497.4,900.2 L500.7,891.6 L503.0,899.9 L505.0,898.4 L506.9,899.9 L507.3,892.7 L507.7,899.9 L509.0,899.3 L510.5,898.1 L511.9,900.5 L512.2,876.8 L512.6,900.5 L513.5,898.7 L514.9,900.5 L515.2,876.4 L515.6,900.5 L517.0,899.9 L518.6,897.2 L520.5,899.9 L521.6,899.3 L522.0,890.4 L522.4,899.3 L524.6,899.4 L525.4,897.7 L527.1,899.3 L527.7,898.0 L528.5,899.2 L532.5,898.4 L534.9,899.9 L536.0,898.6 L539.0,894.9 L542.3,900.6 L545.4,900.6 L545.7,810.7 L546.1,900.6 L548.0,900.6 L550.5,900.6 L552.6,900.6 L553.0,864.4 L553.4,900.6 L555.0,899.4 L558.0,899.9 L560.5,899.4 L562.4,900.6 L562.7,875.0 L563.1,900.6 L565.0,900.6 L570.0,900.6 L572.5,899.9 L575.2,894.9 L579.7,899.4 L583.0,898.1 L586.5,895.4 L590.4,899.5 L591.8,898.4 L594.7,899.9 L596.5,898.8 L598.1,899.5 L598.9,899.0 L604.2,899.9 L604.6,890.0 L605.0,899.9 L606.5,899.4 L612.5,898.8 L616.2,896.7 L621.7,899.9 L622.1,897.6 L626.7,900.4 L627.6,897.6 L629.7,898.7 L631.9,898.3 L632.7,899.4 L632.8,898.3 L638.5,900.6 L647.6,900.6 L649.4,899.9 L649.8,891.1 L650.1,899.9 L651.5,897.8 L651.8,895.1 L652.6,899.4 L653.5,896.2 L657.8,897.0 L663.0,899.3 L663.4,881.9 L663.8,899.3 L666.5,897.7 L667.9,895.6 L668.9,897.7 L673.6,896.1 L676.8,900.3 L678.7,897.5 L678.9,899.7 L679.8,897.9 L682.0,899.4 L682.4,897.5 L682.8,900.1 L691.8,898.0 L694.2,899.9 L704.1,898.9 L706.4,899.3 L708.9,898.0 L712.9,899.2 L713.2,899.3 L718.4,900.5 L721.8,897.2 L724.2,900.1 L727.3,898.1 L729.0,900.1 L729.9,899.8 L732.1,900.9 L732.7,900.5 L739.8,900.6 L740.1,898.3 L743.4,898.9 L755.3,894.9 L760.3,896.9 L760.9,895.3 L763.0,895.4 L763.5,895.3 L763.9,896.7 L769.3,894.9 L779.0,893.3 L789.7,880.9 L793.0,898.1 L796.3,893.0 L797.3,896.1 L800.2,896.5 L801.4,893.9 L802.0,895.7 L804.6,887.0 L805.7,875.0 L806.5,895.7 L808.0,899.9 L812.5,899.8 L814.8,900.4 L816.4,900.0 L819.5,899.6 L822.0,896.1 L827.1,899.4 L827.8,899.4 L828.5,899.9 L831.3,898.5 L835.4,900.1 L836.7,899.6 L837.9,896.7 L842.1,898.4 L849.5,898.6 L853.3,900.0 L855.9,900.2 L856.1,898.6 L856.2,900.8 L857.1,900.5 L864.1,899.4 L865.0,897.6 L870.3,899.4 L870.5,900.4 L871.8,899.3" fill="none" stroke="#1f77b4" stroke-width="1.4" stroke-linejoin="round"/><rect x="69.0" y="696.7" width="840.8" height="205.0" fill="none" stroke="#8c8c8c" stroke-width="1.3"/><line x1="65.5" y1="901.7" x2="69.0" y2="901.7" stroke="#8c8c8c" stroke-width="1"/><text transform="scale(1.0725,1)" y="905.47" font-size="12.80" class="tk"><tspan x="51.53">0</tspan></text><line x1="65.5" y1="871.6" x2="69.0" y2="871.6" stroke="#8c8c8c" stroke-width="1"/><text transform="scale(1.0725,1)" y="875.34" font-size="12.80" class="tk"><tspan x="37.29 44.41 51.53">500</tspan></text><line x1="65.5" y1="841.5" x2="69.0" y2="841.5" stroke="#8c8c8c" stroke-width="1"/><text transform="scale(1.0725,1)" y="845.20" font-size="12.80" class="tk"><tspan x="30.17 37.29 44.41 51.53">1000</tspan></text><line x1="65.5" y1="811.3" x2="69.0" y2="811.3" stroke="#8c8c8c" stroke-width="1"/><text transform="scale(1.0725,1)" y="815.07" font-size="12.80" class="tk"><tspan x="30.17 37.29 44.41 51.53">1500</tspan></text><line x1="65.5" y1="781.2" x2="69.0" y2="781.2" stroke="#8c8c8c" stroke-width="1"/><text transform="scale(1.0725,1)" y="784.94" font-size="12.80" class="tk"><tspan x="30.17 37.29 44.41 51.53">2000</tspan></text><line x1="65.5" y1="751.1" x2="69.0" y2="751.1" stroke="#8c8c8c" stroke-width="1"/><text transform="scale(1.0725,1)" y="754.80" font-size="12.80" class="tk"><tspan x="30.17 37.29 44.41 51.53">2500</tspan></text><line x1="65.5" y1="720.9" x2="69.0" y2="720.9" stroke="#8c8c8c" stroke-width="1"/><text transform="scale(1.0725,1)" y="724.67" font-size="12.80" class="tk"><tspan x="30.17 37.29 44.41 51.53">3000</tspan></text><line x1="82.9" y1="901.74" x2="82.9" y2="905.24" stroke="#8c8c8c" stroke-width="1"/><text transform="scale(1.0725,1)" y="915.37" font-size="12.80" class="tk"><tspan x="73.74">0</tspan></text><line x1="243.8" y1="901.74" x2="243.8" y2="905.24" stroke="#8c8c8c" stroke-width="1"/><text transform="scale(1.0725,1)" y="915.37" font-size="12.80" class="tk"><tspan x="220.20 227.32">50</tspan></text><line x1="404.7" y1="901.74" x2="404.7" y2="905.24" stroke="#8c8c8c" stroke-width="1"/><text transform="scale(1.0725,1)" y="915.37" font-size="12.80" class="tk"><tspan x="366.67 373.79 380.91">100</tspan></text><line x1="565.6" y1="901.74" x2="565.6" y2="905.24" stroke="#8c8c8c" stroke-width="1"/><text transform="scale(1.0725,1)" y="915.37" font-size="12.80" class="tk"><tspan x="516.69 523.81 530.93">150</tspan></text><line x1="726.5" y1="901.74" x2="726.5" y2="905.24" stroke="#8c8c8c" stroke-width="1"/><text transform="scale(1.0725,1)" y="915.37" font-size="12.80" class="tk"><tspan x="666.72 673.84 680.96">200</tspan></text><line x1="887.4" y1="901.74" x2="887.4" y2="905.24" stroke="#8c8c8c" stroke-width="1"/><text transform="scale(1.0725,1)" y="915.37" font-size="12.80" class="tk"><tspan x="816.74 823.86 830.98">250</tspan></text><text transform="scale(1.1980,1)" y="931.19" font-size="14.10" class="tk"><tspan x="393.63 398.16 402.18 406.01 417.66">r [m]</tspan></text><text transform="translate(0,911.54) rotate(-90) scale(1.1236,1)" y="24.00" font-size="14.10" class="tk"><tspan x="-1.84 9.04 17.09 21.33 28.86 36.39 43.94 51.54 55.22 61.84 69.37 76.92 83.56 91.11 99.27 103.74 108.35 116.39 120.83 123.85 131.38 139.09 143.37 147.60 155.27 163.04 175.75 184.94 197.10">Methane concentration [ppm×m]</tspan></text><rect x="819.3" y="700.0" width="87" height="13.6" rx="2" fill="#fff" stroke="#e4e4e4" stroke-width="1"/><line x1="821" y1="706.8" x2="837.4" y2="706.8" stroke="#5e9fd0" stroke-width="1.3"/><text transform="scale(1.0576,1)" y="709.04" font-size="7.86" class="lg"><tspan x="796.17 802.52 806.88 811.13 815.02 819.61 822.38 826.83 831.31 833.34 838.39 842.86 844.79 849.23">Measured Value</tspan></text></g>
<g><path d="M105.9,1231.7 L108.1,1223.6 L109.7,1224.7 L110.8,1233.8 L111.3,1227.0 L112.1,1233.5 L112.3,1210.9 L112.6,1235.3 L112.8,1212.1 L113.0,1235.1 L113.3,1214.0 L113.7,1235.7 L114.2,1197.6 L114.6,1233.6 L114.8,1234.7 L115.1,1224.9 L115.3,1235.5 L115.5,1223.7 L116.2,1231.7 L117.8,1233.6 L118.1,1210.2 L118.4,1233.6 L118.8,1229.0 L123.7,1233.8 L129.6,1226.8 L130.9,1234.2 L131.2,1221.2 L131.5,1234.3 L131.6,1220.3 L131.9,1235.0 L132.2,1221.8 L132.5,1234.8 L132.7,1221.7 L133.0,1235.7 L133.2,1222.1 L133.6,1234.4 L133.9,1222.9 L134.1,1235.9 L134.3,1221.1 L135.0,1234.4 L146.6,1220.9 L147.4,1225.8 L152.3,1232.8 L152.8,1225.6 L162.5,1234.4 L165.8,1233.3 L170.6,1235.2 L172.9,1233.6 L173.1,1209.1 L173.4,1233.6 L174.4,1233.3 L179.2,1231.7 L180.8,1235.5 L183.1,1235.6 L183.4,1226.7 L183.7,1234.9 L183.9,1227.6 L184.3,1235.9 L184.4,1227.3 L184.7,1235.1 L184.9,1226.6 L185.3,1235.7 L185.5,1227.1 L185.8,1235.8 L186.1,1226.9 L187.3,1235.5 L187.7,1225.6 L188.1,1235.9 L188.3,1225.2 L188.6,1234.8 L188.9,1224.7 L189.0,1235.6 L189.3,1225.4 L189.7,1234.5 L189.9,1224.5 L190.1,1235.7 L190.5,1225.5 L190.7,1235.9 L191.0,1225.2 L191.2,1235.0 L191.4,1225.3 L191.7,1235.9 L191.9,1224.4 L192.3,1235.6 L192.7,1223.1 L194.8,1230.1 L196.5,1231.8 L197.8,1227.6 L198.4,1234.2 L199.5,1228.3 L200.4,1228.3 L200.9,1235.9 L202.0,1225.9 L203.1,1221.8 L205.7,1225.9 L207.4,1235.9 L208.0,1231.9 L223.5,1230.1 L225.2,1234.3 L230.6,1235.9 L236.5,1234.3 L237.7,1230.5 L240.0,1232.4 L242.4,1228.3 L243.0,1235.4 L245.2,1232.7 L246.0,1230.3 L247.1,1235.3 L247.2,1231.2 L248.7,1234.6 L248.7,1231.4 L248.8,1234.7 L249.3,1228.8 L249.8,1235.0 L252.2,1232.0 L253.2,1232.4 L254.2,1230.0 L254.9,1222.4 L255.6,1232.4 L259.5,1234.5 L261.3,1233.3 L262.0,1235.0 L262.3,1231.5 L263.1,1233.7 L263.7,1231.4 L267.2,1230.0 L267.8,1228.4 L269.3,1231.1 L270.3,1228.3 L270.4,1229.9 L270.4,1228.8 L270.6,1231.1 L271.6,1228.5 L271.7,1231.0 L273.5,1235.4 L273.8,1225.8 L273.9,1236.0 L274.3,1226.9 L274.8,1235.2 L275.1,1225.9 L275.5,1234.8 L275.9,1225.6 L276.1,1235.8 L276.3,1226.2 L276.9,1235.0 L277.0,1225.8 L277.6,1236.0 L277.8,1225.1 L278.3,1234.9 L278.6,1226.8 L279.0,1235.3 L279.3,1226.1 L279.7,1234.9 L279.9,1226.3 L280.3,1235.7 L280.6,1225.9 L281.1,1234.7 L281.4,1226.8 L282.4,1232.4 L282.7,1174.9 L283.0,1232.4 L283.3,1233.6 L283.7,1216.6 L284.0,1235.2 L284.2,1213.7 L284.5,1234.8 L284.9,1213.9 L285.1,1235.5 L285.3,1213.5 L286.3,1214.7 L288.6,1227.0 L292.2,1235.4 L295.8,1230.1 L297.8,1233.6 L298.1,1174.9 L298.4,1233.6 L299.4,1235.2 L299.8,1229.7 L300.3,1235.5 L300.6,1229.7 L301.1,1235.5 L301.6,1230.1 L301.9,1235.7 L302.1,1228.9 L302.6,1235.9 L303.0,1229.3 L303.4,1235.7 L303.9,1229.8 L304.2,1236.0 L304.5,1230.2 L304.9,1235.2 L305.5,1229.0 L305.7,1235.3 L306.3,1229.1 L306.7,1235.2 L307.0,1230.0 L307.4,1235.5 L307.8,1229.5 L308.1,1235.5 L308.7,1228.9 L308.9,1235.4 L309.4,1228.8 L309.6,1235.9 L310.2,1229.3 L310.6,1235.4 L310.9,1229.1 L311.3,1235.5 L311.6,1229.0 L312.1,1235.7 L312.4,1228.9 L312.9,1235.7 L313.1,1229.4 L313.5,1235.2 L313.9,1229.2 L314.5,1235.7 L314.7,1229.9 L315.4,1199.1 L316.3,1234.9 L319.2,1224.7 L320.4,1234.9 L322.7,1235.8 L325.0,1232.7 L325.3,1235.2 L326.0,1232.5 L326.0,1235.6 L326.1,1231.4 L327.9,1235.3 L329.5,1234.0 L330.2,1235.9 L331.0,1231.3 L332.8,1227.4 L338.5,1233.1 L339.6,1229.2 L343.0,1230.3 L351.6,1225.8 L372.4,1229.7 L390.5,1235.5 L400.7,1228.5 L416.5,1230.8 L427.4,1235.5 L428.5,1230.3 L435.8,1217.2 L438.5,1234.4 L448.2,1234.4 L449.3,1232.2 L451.6,1234.4 L456.1,1232.2 L458.4,1234.9 L461.8,1227.6 L468.6,1231.2 L469.3,1206.6 L472.0,1208.4 L476.5,1233.1 L483.3,1233.1 L484.4,1235.5 L489.0,1230.8 L492.3,1234.4 L496.9,1232.2 L499.1,1235.5 L507.0,1231.5 L510.0,1234.9 L516.0,1232.6 L517.3,1234.9 L520.2,1208.9 L521.0,1234.9 L523.1,1233.3 L535.5,1235.5 L811.8,1235.5 L811.9,1225.8 L812.3,1233.7 L871.1,1231.5 L871.8,1230.3" fill="none" stroke="#1f77b4" stroke-width="1.4" stroke-linejoin="round"/><rect x="69.0" y="1031.0" width="840.8" height="205.0" fill="none" stroke="#8c8c8c" stroke-width="1.3"/><line x1="65.5" y1="1236.0" x2="69.0" y2="1236.0" stroke="#8c8c8c" stroke-width="1"/><text transform="scale(1.0725,1)" y="1239.74" font-size="12.80" class="tk"><tspan x="51.53">0</tspan></text><line x1="65.5" y1="1205.9" x2="69.0" y2="1205.9" stroke="#8c8c8c" stroke-width="1"/><text transform="scale(1.0725,1)" y="1209.61" font-size="12.80" class="tk"><tspan x="37.29 44.41 51.53">500</tspan></text><line x1="65.5" y1="1175.7" x2="69.0" y2="1175.7" stroke="#8c8c8c" stroke-width="1"/><text transform="scale(1.0725,1)" y="1179.47" font-size="12.80" class="tk"><tspan x="30.17 37.29 44.41 51.53">1000</tspan></text><line x1="65.5" y1="1145.6" x2="69.0" y2="1145.6" stroke="#8c8c8c" stroke-width="1"/><text transform="scale(1.0725,1)" y="1149.34" font-size="12.80" class="tk"><tspan x="30.17 37.29 44.41 51.53">1500</tspan></text><line x1="65.5" y1="1115.5" x2="69.0" y2="1115.5" stroke="#8c8c8c" stroke-width="1"/><text transform="scale(1.0725,1)" y="1119.21" font-size="12.80" class="tk"><tspan x="30.17 37.29 44.41 51.53">2000</tspan></text><line x1="65.5" y1="1085.3" x2="69.0" y2="1085.3" stroke="#8c8c8c" stroke-width="1"/><text transform="scale(1.0725,1)" y="1089.07" font-size="12.80" class="tk"><tspan x="30.17 37.29 44.41 51.53">2500</tspan></text><line x1="65.5" y1="1055.2" x2="69.0" y2="1055.2" stroke="#8c8c8c" stroke-width="1"/><text transform="scale(1.0725,1)" y="1058.94" font-size="12.80" class="tk"><tspan x="30.17 37.29 44.41 51.53">3000</tspan></text><line x1="92.6" y1="1236.01" x2="92.6" y2="1239.51" stroke="#8c8c8c" stroke-width="1"/><text transform="scale(1.0725,1)" y="1249.64" font-size="12.80" class="tk"><tspan x="82.78">0</tspan></text><line x1="252.8" y1="1236.01" x2="252.8" y2="1239.51" stroke="#8c8c8c" stroke-width="1"/><text transform="scale(1.0725,1)" y="1249.64" font-size="12.80" class="tk"><tspan x="225.02 232.14 239.25">100</tspan></text><line x1="413.0" y1="1236.01" x2="413.0" y2="1239.51" stroke="#8c8c8c" stroke-width="1"/><text transform="scale(1.0725,1)" y="1249.64" font-size="12.80" class="tk"><tspan x="374.37 381.49 388.61">200</tspan></text><line x1="573.1" y1="1236.01" x2="573.1" y2="1239.51" stroke="#8c8c8c" stroke-width="1"/><text transform="scale(1.0725,1)" y="1249.64" font-size="12.80" class="tk"><tspan x="523.72 530.84 537.96">300</tspan></text><line x1="733.3" y1="1236.01" x2="733.3" y2="1239.51" stroke="#8c8c8c" stroke-width="1"/><text transform="scale(1.0725,1)" y="1249.64" font-size="12.80" class="tk"><tspan x="673.08 680.20 687.32">400</tspan></text><line x1="893.5" y1="1236.01" x2="893.5" y2="1239.51" stroke="#8c8c8c" stroke-width="1"/><text transform="scale(1.0725,1)" y="1249.64" font-size="12.80" class="tk"><tspan x="822.43 829.55 836.67">500</tspan></text><text transform="scale(1.1980,1)" y="1265.46" font-size="14.10" class="tk"><tspan x="393.63 398.16 402.18 406.01 417.66">r [m]</tspan></text><text transform="translate(0,1245.81) rotate(-90) scale(1.1236,1)" y="24.00" font-size="14.10" class="tk"><tspan x="-1.84 9.04 17.09 21.33 28.86 36.39 43.94 51.54 55.22 61.84 69.37 76.92 83.56 91.11 99.27 103.74 108.35 116.39 120.83 123.85 131.38 139.09 143.37 147.60 155.27 163.04 175.75 184.94 197.10">Methane concentration [ppm×m]</tspan></text><rect x="819.3" y="1034.3" width="87" height="13.6" rx="2" fill="#fff" stroke="#e4e4e4" stroke-width="1"/><line x1="821" y1="1041.1" x2="837.4" y2="1041.1" stroke="#5e9fd0" stroke-width="1.3"/><text transform="scale(1.0576,1)" y="1043.31" font-size="7.86" class="lg"><tspan x="796.17 802.52 806.88 811.13 815.02 819.61 822.38 826.83 831.31 833.34 838.39 842.86 844.79 849.23">Measured Value</tspan></text></g>
<g><path d="M105.9,1568.2 L115.4,1568.5 L115.8,1558.9 L160.6,1568.5 L161.8,1527.5 L162.4,1567.6 L178.7,1566.9 L179.2,1567.3 L194.6,1566.4 L195.2,1545.4 L199.5,1567.1 L216.7,1569.9 L220.6,1564.2 L230.8,1568.7 L243.2,1565.3 L244.4,1568.0 L262.5,1568.7 L294.6,1563.5 L295.3,1552.2 L298.7,1568.7 L305.0,1569.1 L319.2,1566.2 L320.4,1567.6 L336.2,1569.1 L337.3,1568.5 L356.6,1566.4 L367.9,1569.6 L371.3,1569.1 L374.7,1567.6 L381.5,1566.4 L393.9,1563.5 L395.0,1566.9 L400.2,1569.6 L403.2,1560.1 L404.1,1567.6 L438.0,1569.6 L440.8,1560.1 L455.0,1569.6 L458.0,1563.5 L469.7,1568.7 L487.4,1562.4 L489.0,1567.3 L498.0,1569.1 L510.0,1569.1 L516.3,1569.6 L522.7,1565.1 L524.2,1566.9 L524.9,1565.3 L525.8,1568.0 L534.4,1568.0 L535.1,1561.9 L535.6,1569.6 L545.7,1569.6 L571.8,1564.6 L577.0,1569.6 L584.2,1569.6 L595.1,1565.1 L596.6,1569.1 L605.7,1566.2 L606.4,1569.6 L627.2,1569.6 L637.4,1566.9 L648.7,1569.6 L654.4,1567.3 L655.5,1567.6 L662.3,1565.3 L715.0,1567.6 L762.0,1569.6 L800.5,1569.1 L807.3,1569.1 L818.6,1569.8 L827.7,1569.1 L845.8,1569.4 L871.1,1569.1" fill="none" stroke="#1f77b4" stroke-width="1.4" stroke-linejoin="round"/><rect x="69.0" y="1365.3" width="840.8" height="205.0" fill="none" stroke="#8c8c8c" stroke-width="1.3"/><line x1="65.5" y1="1570.3" x2="69.0" y2="1570.3" stroke="#8c8c8c" stroke-width="1"/><text transform="scale(1.0725,1)" y="1574.01" font-size="12.80" class="tk"><tspan x="51.53">0</tspan></text><line x1="65.5" y1="1540.1" x2="69.0" y2="1540.1" stroke="#8c8c8c" stroke-width="1"/><text transform="scale(1.0725,1)" y="1543.88" font-size="12.80" class="tk"><tspan x="37.29 44.41 51.53">500</tspan></text><line x1="65.5" y1="1510.0" x2="69.0" y2="1510.0" stroke="#8c8c8c" stroke-width="1"/><text transform="scale(1.0725,1)" y="1513.74" font-size="12.80" class="tk"><tspan x="30.17 37.29 44.41 51.53">1000</tspan></text><line x1="65.5" y1="1479.9" x2="69.0" y2="1479.9" stroke="#8c8c8c" stroke-width="1"/><text transform="scale(1.0725,1)" y="1483.61" font-size="12.80" class="tk"><tspan x="30.17 37.29 44.41 51.53">1500</tspan></text><line x1="65.5" y1="1449.7" x2="69.0" y2="1449.7" stroke="#8c8c8c" stroke-width="1"/><text transform="scale(1.0725,1)" y="1453.48" font-size="12.80" class="tk"><tspan x="30.17 37.29 44.41 51.53">2000</tspan></text><line x1="65.5" y1="1419.6" x2="69.0" y2="1419.6" stroke="#8c8c8c" stroke-width="1"/><text transform="scale(1.0725,1)" y="1423.34" font-size="12.80" class="tk"><tspan x="30.17 37.29 44.41 51.53">2500</tspan></text><line x1="65.5" y1="1389.5" x2="69.0" y2="1389.5" stroke="#8c8c8c" stroke-width="1"/><text transform="scale(1.0725,1)" y="1393.21" font-size="12.80" class="tk"><tspan x="30.17 37.29 44.41 51.53">3000</tspan></text><line x1="165.9" y1="1570.28" x2="165.9" y2="1573.78" stroke="#8c8c8c" stroke-width="1"/><text transform="scale(1.0725,1)" y="1583.91" font-size="12.80" class="tk"><tspan x="145.81 152.93 156.49">2.5</tspan></text><line x1="266.4" y1="1570.28" x2="266.4" y2="1573.78" stroke="#8c8c8c" stroke-width="1"/><text transform="scale(1.0725,1)" y="1583.91" font-size="12.80" class="tk"><tspan x="239.45 246.56 250.12">5.0</tspan></text><line x1="366.8" y1="1570.28" x2="366.8" y2="1573.78" stroke="#8c8c8c" stroke-width="1"/><text transform="scale(1.0725,1)" y="1583.91" font-size="12.80" class="tk"><tspan x="333.08 340.20 343.76">7.5</tspan></text><line x1="467.2" y1="1570.28" x2="467.2" y2="1573.78" stroke="#8c8c8c" stroke-width="1"/><text transform="scale(1.0725,1)" y="1583.91" font-size="12.80" class="tk"><tspan x="423.16 430.28 437.40 440.95">10.0</tspan></text><line x1="567.6" y1="1570.28" x2="567.6" y2="1573.78" stroke="#8c8c8c" stroke-width="1"/><text transform="scale(1.0725,1)" y="1583.91" font-size="12.80" class="tk"><tspan x="516.80 523.91 531.03 534.59">12.5</tspan></text><line x1="668.1" y1="1570.28" x2="668.1" y2="1573.78" stroke="#8c8c8c" stroke-width="1"/><text transform="scale(1.0725,1)" y="1583.91" font-size="12.80" class="tk"><tspan x="610.43 617.55 624.67 628.23">15.0</tspan></text><line x1="768.5" y1="1570.28" x2="768.5" y2="1573.78" stroke="#8c8c8c" stroke-width="1"/><text transform="scale(1.0725,1)" y="1583.91" font-size="12.80" class="tk"><tspan x="704.07 711.19 718.31 721.86">17.5</tspan></text><line x1="868.9" y1="1570.28" x2="868.9" y2="1573.78" stroke="#8c8c8c" stroke-width="1"/><text transform="scale(1.0725,1)" y="1583.91" font-size="12.80" class="tk"><tspan x="797.70 804.82 811.94 815.50">20.0</tspan></text><text transform="scale(1.1980,1)" y="1599.73" font-size="14.10" class="tk"><tspan x="393.63 398.16 402.18 406.01 417.66">r [m]</tspan></text><text transform="translate(0,1580.08) rotate(-90) scale(1.1236,1)" y="24.00" font-size="14.10" class="tk"><tspan x="-1.84 9.04 17.09 21.33 28.86 36.39 43.94 51.54 55.22 61.84 69.37 76.92 83.56 91.11 99.27 103.74 108.35 116.39 120.83 123.85 131.38 139.09 143.37 147.60 155.27 163.04 175.75 184.94 197.10">Methane concentration [ppm×m]</tspan></text><rect x="819.3" y="1368.6" width="87" height="13.6" rx="2" fill="#fff" stroke="#e4e4e4" stroke-width="1"/><line x1="821" y1="1375.4" x2="837.4" y2="1375.4" stroke="#5e9fd0" stroke-width="1.3"/><text transform="scale(1.0576,1)" y="1377.58" font-size="7.86" class="lg"><tspan x="796.17 802.52 806.88 811.13 815.02 819.61 822.38 826.83 831.31 833.34 838.39 842.86 844.79 849.23">Measured Value</tspan></text></g>
</g>
<text transform="scale(1.0910,1)" y="305.70" font-size="24.10" class="cap"><tspan x="204.22">(</tspan><tspan x="212.63" font-weight="bold">a</tspan><tspan x="225.06 233.75 238.85 251.43 257.73 264.24 276.65 289.22 295.83 301.67 312.29 319.02 325.70 332.38 339.83 353.06 365.61 375.56 381.34 386.50 397.69 403.68 422.39 427.84 433.96 451.53 458.21 465.43 477.73 490.25 503.05 509.66 515.44 527.62 538.35 547.37 552.98 563.80 582.58 588.99 598.23 607.32 613.72 626.01">) Flight altitude: 3 m, without gas emission</tspan></text><text transform="scale(1.0902,1)" y="639.97" font-size="24.10" class="cap"><tspan x="219.24">(</tspan><tspan x="228.19" font-weight="bold">b</tspan><tspan x="242.52 251.22 256.32 268.91 275.22 281.73 294.14 306.72 313.34 319.19 329.81 336.54 343.23 349.91 357.37 370.61 383.17 393.13 398.91 404.08 415.27 421.27 439.99 445.44 451.57 469.15 475.84 483.07 495.15 500.93 513.12 523.86 532.89 538.50 549.33 568.12 574.53 583.78 592.88 599.28 611.59">) Flight altitude: 3 m, with gas emission</tspan></text><text transform="scale(1.0877,1)" y="974.24" font-size="24.10" class="cap"><tspan x="221.59">(</tspan><tspan x="230.09" font-weight="bold">c</tspan><tspan x="241.27 249.99 255.11 267.72 274.04 280.58 293.02 305.62 312.25 318.12 328.76 335.51 342.21 348.91 356.39 369.66 382.25 392.22 398.02 403.21 414.42 420.45 439.19 444.66 450.82 468.43 475.13 482.38 494.49 500.29 512.51 523.27 532.31 537.94 548.81 567.62 574.06 583.33 592.44 598.87 611.20">) Flight altitude: 6 m, with gas emission</tspan></text><text transform="scale(1.0902,1)" y="1308.51" font-size="24.10" class="cap"><tspan x="219.24">(</tspan><tspan x="228.19" font-weight="bold">d</tspan><tspan x="242.52 251.22 256.32 268.91 275.22 281.73 294.14 306.72 313.34 319.19 329.81 336.54 343.23 349.91 357.37 370.61 383.17 393.13 398.91 404.08 415.27 421.27 439.99 445.44 451.57 469.15 475.84 483.07 495.15 500.93 513.12 523.86 532.89 538.50 549.33 568.12 574.53 583.78 592.88 599.28 611.59">) Flight altitude: 9 m, with gas emission</tspan></text><text transform="scale(1.0879,1)" y="1642.78" font-size="24.10" class="cap"><tspan x="215.46">(</tspan><tspan x="224.57" font-weight="bold">e</tspan><tspan x="236.35 245.07 250.19 262.80 269.12 275.65 288.09 300.69 307.32 313.18 323.83 330.57 337.27 343.97 351.44 364.71 377.30 387.27 393.07 398.25 409.18 420.39 426.41 445.16 450.62 456.78 474.38 481.08 488.33 500.44 506.23 518.45 529.21 538.25 543.88 554.74 573.55 579.98 589.25 598.36 604.79 617.12">) Flight altitude: 12 m, with gas emission</tspan></text>
<style>
text{font-kerning:none;}
.tk{font-family:"Liberation Sans",sans-serif;fill:#222;}
.lg{font-family:"Liberation Sans",sans-serif;fill:#222;}
.cap{font-family:"Liberation Serif",serif;fill:#111;stroke:#fff;stroke-width:0.2px;}
</style>
</svg></body></html>
